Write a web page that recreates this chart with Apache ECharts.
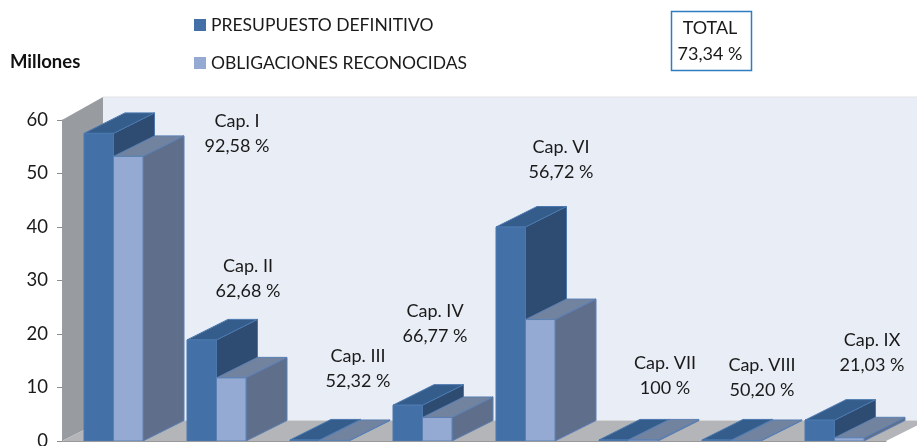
<!DOCTYPE html>
<html><head><meta charset="utf-8">
<style>html,body{margin:0;padding:0;background:#fff}#c{width:917px;height:446px}</style>
<script src="https://cdn.jsdelivr.net/npm/echarts@6/dist/echarts.min.js"></script>
</head><body><div id="c"></div>
<script>
const categories = ['Cap. I','Cap. II','Cap. III','Cap. IV','Cap. VI','Cap. VII','Cap. VIII','Cap. IX'];
const presupuesto = [57.5, 18.9, 0.2, 6.7, 40, 0.2, 0.2, 3.9];
const obligaciones = [53.2, 11.8, 0.1, 4.4, 22.7, 0.2, 0.1, 0.6];
const percents = ['92,58 %','62,68 %','52,32 %','66,77 %','56,72 %','100 %','50,20 %','21,03 %'];
const yTicks = {min:0, max:60, interval:10};
const seriesNames = ['PRESUPUESTO DEFINITIVO','OBLIGACIONES RECONOCIDAS'];
const totalText = ['TOTAL','73,34 %'];
const unitLabel = 'Millones';

const FONT = 'Lato, "Open Sans", sans-serif';
const DX = 41, DY = -20.5, WALL_RISE = -23, BAR = 29.5;
const anchors = [[237,133.5],[248,278.5],[358,368.5],[435,323.5],[561,159.5],[665,376],[762,377.5],[872,352.5]];

const poly = (pts, fill, stroke) => ({type:'polygon', shape:{points:pts}, style:{fill, stroke:stroke||null, lineWidth:stroke?1:0}});

function barRender(slot, colors){
  return function(params, api){
    const base = api.coord([api.value(0), 0]);
    const top = api.coord([api.value(0), api.value(1)]);
    const band = api.size([1,0])[0];
    const x0 = base[0] - band/2 + 22 + slot*BAR, x1 = x0 + BAR;
    const y0 = base[1], y1 = Math.min(top[1], y0 - 0.5);
    return {type:'group', children:[
      poly([[x1,y0],[x1+DX,y0+DY],[x1+DX,y1+DY],[x1,y1]], colors.side, colors.edge),
      poly([[x0,y1],[x0+DX,y1+DY],[x1+DX,y1+DY],[x1,y1]], colors.top, colors.edge),
      poly([[x0,y0],[x1,y0],[x1,y1],[x0,y1]], colors.front, colors.edge)
    ]};
  };
}
function wallRender(params, api){
  const c = params.coordSys;
  const l = c.x, r = c.x + c.width + 40, b = c.y + c.height, t = c.y;
  return {type:'group', children:[
    poly([[l+DX,t+WALL_RISE],[r,t+WALL_RISE],[r,b+DY],[l+DX,b+DY]], '#E9EDF6'),
    {type:'line', shape:{x1:l+DX,y1:t+WALL_RISE,x2:r,y2:t+WALL_RISE}, style:{stroke:'#E2E3E5',lineWidth:1}},
    poly([[l,t],[l+DX,t+WALL_RISE],[l+DX,b+DY],[l,b]], '#989CA1'),
    poly([[l,b],[l+DX,b+DY],[c.x+c.width+DX,b+DY],[c.x+c.width,b]], '#B3B5B8')
  ]};
}
const palette = [
  {front:'#4470A8', top:'#355D8B', side:'#2E4C72', edge:'#4A78AE'},
  {front:'#95AAD3', top:'#71839F', side:'#5E6E8B', edge:'#5B80B4'}
];
const textEls = [];
categories.forEach((c,i)=>{
  textEls.push({type:'text', x:anchors[i][0], y:anchors[i][1], style:{text:c+'\n'+percents[i], font:'18px '+FONT, lineHeight:25, fill:'#1a1a1a', align:'center', verticalAlign:'middle'}, z:50});
});
textEls.push({type:'rect', shape:{x:671.5,y:11.5,width:80,height:59}, style:{fill:'#fff',stroke:'#2E7DBE',lineWidth:1.5}, z:50});
textEls.push({type:'text', x:710, y:41, style:{text:totalText.join('\n'), font:'18px '+FONT, lineHeight:26, fill:'#1a1a1a', align:'center', verticalAlign:'middle'}, z:51});
textEls.push({type:'text', x:10, y:62, style:{text:unitLabel, font:'bold 18.5px '+FONT, fill:'#111', align:'left', verticalAlign:'middle'}, z:50});

const chart = echarts.init(document.getElementById('c'), null, {renderer:'canvas'});
chart.setOption({
  animation:false,
  backgroundColor:'#fff',
  grid:{left:62, right:31, top:120, bottom:5, containLabel:false, outerBoundsMode:'none'},
  legend:{show:true, orient:'vertical', left:189, top:11, itemWidth:12, itemHeight:12, itemGap:20, selectedMode:false, icon:'rect',
    data:seriesNames, textStyle:{fontFamily:FONT, fontSize:17.5, color:'#1a1a1a', padding:0}},
  xAxis:{type:'category', data:categories, axisLabel:{show:false}, axisTick:{show:false}, axisLine:{lineStyle:{color:'#9a9a9a'}}, z:3},
  yAxis:{type:'value', min:yTicks.min, max:yTicks.max, interval:yTicks.interval,
    axisLine:{show:true, lineStyle:{color:'#8c8c8c'}}, axisTick:{show:true, length:5, lineStyle:{color:'#8c8c8c'}},
    splitLine:{show:false}, axisLabel:{fontFamily:FONT, fontSize:18.5, color:'#1a1a1a', margin:14}},
  series:[
    {type:'custom', name:'walls', silent:true, clip:false, z:1, data:[[0,0]], encode:{x:0,y:1}, renderItem:wallRender},
    {type:'custom', name:seriesNames[0], clip:false, z:2, itemStyle:{color:palette[0].front}, encode:{x:0,y:1},
      data:presupuesto.map((v,i)=>[i,v]), renderItem:barRender(0,palette[0])},
    {type:'custom', name:seriesNames[1], clip:false, z:3, itemStyle:{color:palette[1].front, borderColor:palette[1].edge}, encode:{x:0,y:1},
      data:obligaciones.map((v,i)=>[i,v]), renderItem:barRender(1,palette[1])}
  ],
  graphic:{elements:textEls}
});
</script></body></html>
